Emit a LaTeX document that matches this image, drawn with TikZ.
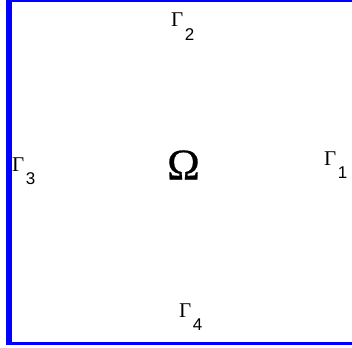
\documentclass[tikz,border=0pt]{standalone}
\usepackage{fontspec}
\setmainfont{Liberation Serif}
\newfontfamily\labsans{Liberation Sans}
\newfontfamily\omgfont[FakeBold=0.6]{Liberation Serif}
\definecolor{frameblue}{RGB}{0,0,255}
\tikzset{
  gam/.style={anchor=base west, inner sep=0pt, font=\fontsize{21}{21}\selectfont},
  omg/.style={inner sep=0pt, font=\omgfont\fontsize{44}{44}\selectfont},
  edge/.style={fill=frameblue, draw=none}
}
\newcommand{\gsub}[1]{Γ\kern1.5pt\raisebox{-13.5pt}{\labsans\fontsize{17}{17}\selectfont #1}}
\begin{document}
\begin{tikzpicture}[x=1pt,y=-1pt]
\useasboundingbox (0,0) rectangle (352,347);
\fill[white] (0,0) rectangle (352,347);
% frame
\fill[edge] (6,0) rectangle (352,2);
\fill[edge] (6,0) rectangle (12,345);
\fill[edge] (6,342) rectangle (352,345);
% labels
\node[gam] (g2) at (171,27) {\gsub{2}};
\node[gam] (g3) at (12,171) {\gsub{3}};
\node[gam] (g1) at (324,165) {\gsub{1}};
\node[gam] (g4) at (179,317) {\gsub{4}};
\node[omg] (om) at (183.5,165) {Ω};
\end{tikzpicture}
\end{document}
